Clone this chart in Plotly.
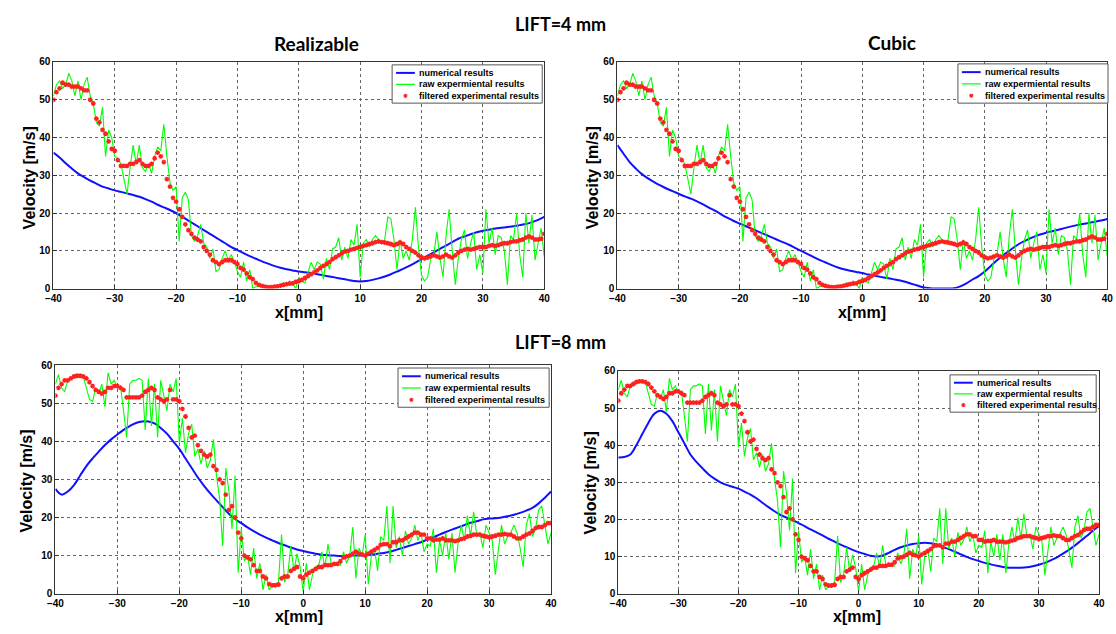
import numpy as np
import plotly.graph_objects as go

# ---------------- DATA ----------------
x_exp = np.arange(-40, 40.01, 0.5)   # experimental grid, mm
x_num = np.arange(-40, 40.01, 1.0)   # numerical grid, mm

# LIFT = 4 mm, experimental (same in both top panels)
raw4 = [51, 54, 55, 53, 54, 57, 55, 51, 55, 50, 54, 56, 51, 49, 44, 43, 48, 35, 42, 40,
        35, 34.5, 33, 29, 25, 32, 38, 33, 38, 32, 31, 33, 30.5, 35, 37.5, 36.5, 43.5, 35, 28, 26,
        27, 12.5, 24, 25.5, 23.5, 14, 12.5, 14, 17, 12, 11, 8, 10.5, 4.5, 5, 8, 10, 7.5, 9, 7,
        4.5, 3, 7, 2, 5, 0, 0.5, 1, 0.5, 0.3, 0.5, 0.2, 0.8, 0.5, 1, 1.5, 1.2, 2, 1.3, 0,
        3, 2, 1.5, 4, 7, 5, 7, 6.5, 2.5, 8, 5, 10.5, 11, 13.5, 7.5, 11, 8, 13, 11.5, 17,
        3, 12, 13, 11, 13, 14, 13, 12, 13, 19, 18.5, 13, 5, 13, 8, 10, 7.5, 13, 21.5, 11,
        3.5, 2, 3, 8, 9, 15, 8, 3, 14, 21, 10, 1, 8, 13, 15.5, 8, 12, 15, 5, 9,
        4, 21, 12, 16, 9, 14, 13.5, 10, 1, 14, 13, 20, 9, 3, 20, 12, 19.5, 7.5, 12, 16, 8.5]
filt4 = [50, 52, 53, 54.5, 54, 54, 53.5, 53.5, 53.5, 53, 52.5, 52.5, 50, 49, 45, 44, 42, 41, 39, 37,
         36.5, 34, 32.5, 32.5, 32.5, 33, 33, 33.5, 34, 33, 32.5, 32.5, 33, 34.5, 36, 35, 33.5, 29, 27, 24,
         23, 21, 19, 17, 15.5, 14.5, 13.5, 13, 12.5, 11, 10, 9, 7.5, 7, 6.5, 7, 7.5, 7.5, 7.5, 7,
         6.5, 5.5, 5, 4, 3, 2.5, 1.5, 1, 0.7, 0.5, 0.4, 0.4, 0.5, 0.6, 0.8, 1, 1.2, 1.3, 1.4, 1.8,
         2, 2.3, 2.8, 3.3, 3.8, 4.3, 4.8, 5.5, 6, 6.5, 7, 7.8, 8.3, 8.8, 9.3, 9.8, 10, 10.3, 10.5, 10.8,
         11, 11.3, 11.5, 11.8, 12, 12.3, 12.5, 12.3, 12.2, 12, 11.8, 11.5, 11.8, 12.2, 11.8, 11, 10.5, 10, 9.5, 8.8,
         8.3, 8, 8.2, 8.5, 8.8, 8.5, 8.2, 8.5, 9, 8.5, 8.2, 8.8, 9.5, 10, 10.3, 10.5, 10.3, 10.5, 10.8, 11,
         11, 11, 11.3, 11.5, 11.3, 11.5, 11.8, 12, 12, 12.3, 12.5, 12.5, 12.8, 13, 13.5, 13.8, 13.5, 13, 13, 13.2, 14.5]

# LIFT = 8 mm, experimental (same in both bottom panels)
raw8 = [55, 57.5, 54, 53, 56, 56.5, 57.5, 57.5, 57.5, 57, 54, 51, 50.5, 54, 52.5, 55, 49, 58, 55, 56,
        54, 54.5, 48, 41, 55, 56, 56, 56.5, 56, 43, 56.5, 44, 55, 41, 56, 52, 48, 55, 53, 56.5,
        39.5, 46, 37, 42, 44.5, 36, 38, 34, 37.5, 33, 35, 40.5, 31, 25, 12.5, 33, 27, 17, 31, 5.5,
        17, 8.5, 10, 5, 12, 4, 8, 1, 5, 1, 2, 2.5, 3, 15.5, 3, 5, 12.5, 6, 10.5, 7,
        0.5, 8, 1, 5, 7, 7.5, 11, 7, 13, 8, 7.5, 7.5, 7.5, 11, 8, 10, 17.5, 4, 12, 10,
        15.5, 2.5, 10, 12, 6, 15, 14, 23, 8, 23, 12, 15, 10, 16.5, 13, 14.5, 18, 14, 16, 11,
        13, 12.5, 17, 5.5, 14, 10, 16, 9, 16, 5.5, 13.5, 18, 14, 20.5, 15, 21.5, 15.5, 16, 12, 18,
        16, 14, 5, 12, 18, 13, 15, 16, 18, 16, 12, 7, 18, 21, 15, 17, 22, 23, 18, 13, 16]
filt8 = [52, 54, 55, 56, 56, 56.5, 57, 57.2, 57.2, 57, 56.5, 55.5, 54.5, 53.5, 53, 52.5, 53, 54, 54, 54.5,
         54.5, 54, 53.5, 51.5, 51.5, 51.5, 51.5, 51.5, 52, 53, 53.5, 54, 53.5, 51.5, 51, 50.5, 51, 53.5, 51, 51,
         50.5, 48.5, 46.5, 43.5, 41, 41.5, 39, 37.5, 36.5, 36, 36.5, 33.5, 32.5, 30, 29, 26, 22, 23, 20, 16,
         14.5, 10, 9.5, 9, 7.5, 6, 6, 4.5, 4, 2.5, 2.2, 2.2, 2.4, 4, 4.5, 4.5, 6, 6.5, 7, 4.5,
         4, 5, 5.5, 6, 6.5, 7, 7, 7.5, 7.5, 7.5, 7.8, 7.8, 8.5, 9.5, 9.8, 10, 10.5, 11, 10.5, 10.3,
         10, 10.5, 11, 11.5, 12, 12.8, 13, 13, 12.5, 13.5, 13.5, 14, 14, 14.5, 15, 15.5, 16, 16, 15.5, 15.5,
         14.5, 14.5, 14, 14.2, 14.2, 14.5, 14, 14, 14, 13.8, 14, 14.3, 14.5, 15, 15.2, 15.5, 15.5, 15.5, 15.2, 15,
         14.8, 15, 15.2, 15.5, 15.5, 15.7, 15.5, 15.5, 15, 14.5, 14.5, 15, 15.5, 15.8, 16.5, 17.2, 17.5, 17.5, 18, 18.5, 18.5]

# Numerical results (1 mm grid)
num_real4 = [36, 34.7, 33.2, 31.8, 30.5, 29.5, 28.6, 27.8, 27, 26.5, 26, 25.6, 25.2, 24.8, 24.3, 23.7, 23, 22.2, 21.5, 20.8,
             20, 19, 18, 17, 16, 15, 14, 13, 12, 11, 10.2, 9.4, 8.6, 7.9, 7.2, 6.6, 6, 5.5, 5.1, 4.8,
             4.5, 4.3, 4.1, 3.8, 3.5, 3.2, 2.9, 2.6, 2.3, 2, 1.9, 2, 2.3, 2.7, 3.2, 3.8, 4.5, 5.2, 6, 6.9,
             7.8, 8.7, 9.6, 10.5, 11.4, 12.3, 13.2, 13.8, 14.4, 14.9, 15.3, 15.6, 15.9, 16.1, 16.3, 16.5, 16.8, 17.1, 17.6, 18.2, 19]
num_cubic4 = [38, 35.7, 33.5, 31.8, 30.3, 29.2, 28.2, 27.3, 26.5, 25.8, 25.1, 24.4, 23.8, 23.1, 22.3, 21.4, 20.6, 19.6, 18.7, 17.9,
              17.2, 16.5, 15.8, 15.1, 14.4, 13.7, 13, 12.3, 11.6, 10.8, 10, 9.2, 8.4, 7.6, 6.9, 6.2, 5.6, 5.1, 4.7, 4.4,
              4.1, 3.7, 3.4, 3.1, 2.8, 2.5, 2.2, 1.8, 1.3, 0.8, 0.3, 0.1, 0, 0, 0, 0.1, 0.6, 1.4, 2.4, 3.3,
              4.5, 6, 7.5, 8.8, 10, 11.2, 12.2, 13, 13.7, 14.3, 14.8, 15.2, 15.6, 16, 16.4, 16.8, 17.1, 17.4, 17.7, 18, 18.4]
num_real8 = [27.5, 26, 26.8, 28.5, 31, 33.5, 35.5, 37.3, 39, 40.5, 41.8, 43, 44, 44.8, 45.2, 45.2, 44.7, 43.5, 42, 40,
             38, 35.5, 33, 30.5, 28.3, 26.3, 24.5, 22.7, 21, 19.6, 18.5, 17.4, 16.4, 15.5, 14.7, 14, 13.3, 12.7, 12.1, 11.6,
             11.2, 10.8, 10.5, 10.2, 10.1, 10, 9.9, 9.9, 10, 10, 10, 10.2, 10.5, 10.7, 11, 11.5, 12, 12.5, 13, 13.5,
             14.2, 14.8, 15.5, 16.2, 16.8, 17.4, 18, 18.6, 19, 19.5, 19.7, 19.8, 20, 20.3, 20.7, 21.2, 21.8, 22.5, 23.7, 25.2, 26.8]
num_cubic8 = [36.7, 36.8, 37.5, 40, 43, 46, 48.5, 49.3, 48.5, 46.5, 43.5, 40.5, 37.5, 35.5, 33.8, 32.2, 31, 30, 29.3, 28.8,
              28.3, 27.5, 26.7, 25.7, 24.5, 23.3, 22.2, 21.2, 20.5, 19.8, 19, 18.2, 17.3, 16.5, 15.7, 14.8, 14, 13.2, 12.5, 11.8,
              11.2, 10.7, 10.2, 10, 10.3, 11, 11.8, 12.5, 13, 13.4, 13.6, 13.7, 13.6, 13.2, 12.6, 12, 11.3, 10.6, 9.9, 9.3,
              8.8, 8.3, 7.9, 7.5, 7.2, 7, 7, 7, 7.1, 7.4, 7.8, 8.3, 9, 9.8, 10.8, 11.8, 13, 14.3, 15.6, 17, 18.2]

x_ticks = [-40, -30, -20, -10, 0, 10, 20, 30, 40]
y_ticks = [0, 10, 20, 30, 40, 50, 60]
names = ["numerical results", "raw expermiental results", "filtered experimental results"]

W, H = 1116, 634
BLUE = "#1010ff"
GREEN = "#00ff00"
RED = "#ff2020"

panels = [
    # num, raw, filt, xdomain, ydomain, legend box (left, top, right, bottom) in px
    (num_real4, raw4, filt4, [0.0412, 0.4866], [0.5457, 0.910], (389, 60, 541, 99)),
    (num_cubic4, raw4, filt4, [0.5530, 0.9975], [0.5457, 0.910], (962, 59, 1114, 99)),
    (num_real8, raw8, filt8, [0.0430, 0.4928], [0.0552, 0.4227], (395, 369, 548, 409)),
    (num_cubic8, raw8, filt8, [0.5538, 0.9900], [0.0552, 0.4132], (954, 376, 1102, 414)),
]
assert all(len(a) == 161 for a in (raw4, filt4, raw8, filt8))
assert all(len(a) == 81 for a in (num_real4, num_cubic4, num_real8, num_cubic8))

def px(xp): return xp / W
def py(yp): return 1 - yp / H

fig = go.Figure()
tickfont = dict(family="Liberation Sans, Arial", size=10, color="black", weight="bold")
shapes, ann = [], []

for i, (num, raw, filt, xd, yd, box) in enumerate(panels):
    k = "" if i == 0 else str(i + 1)
    xa, ya = "x" + k, "y" + k
    fig.add_trace(go.Scatter(x=x_num, y=num, mode="lines", name=names[0],
                             line=dict(color=BLUE, width=2, shape="spline"),
                             xaxis=xa, yaxis=ya, showlegend=False))
    fig.add_trace(go.Scatter(x=x_exp, y=raw, mode="lines", name=names[1],
                             line=dict(color=GREEN, width=1.1),
                             xaxis=xa, yaxis=ya, showlegend=False))
    fig.add_trace(go.Scatter(x=x_exp, y=filt, mode="markers", name=names[2],
                             marker=dict(symbol="asterisk-open", size=4, color=RED,
                                         line=dict(color=RED, width=1.3)),
                             xaxis=xa, yaxis=ya, showlegend=False))
    axcommon = dict(showline=True, linecolor="#333", linewidth=1, mirror=True,
                    showgrid=True, gridcolor="#666", griddash="dot", gridwidth=1,
                    ticks="inside", ticklen=4, tickcolor="#333", tickfont=tickfont,
                    zeroline=False)
    fig.update_layout(**{
        "xaxis" + k: dict(domain=xd, range=[-40, 40], tickvals=x_ticks, anchor=ya, **axcommon),
        "yaxis" + k: dict(domain=yd, range=[0, 60], tickvals=y_ticks, anchor=xa, **axcommon),
    })

    # legend box drawn with shapes + text
    l, t, r, b = box
    shapes.append(dict(type="rect", xref="paper", yref="paper",
                       x0=px(l), x1=px(r), y0=py(b), y1=py(t),
                       fillcolor="white", line=dict(color="#555", width=1), layer="above"))
    rows = [t + (b - t) * f for f in (0.21, 0.51, 0.81)]
    for j, yy in enumerate(rows):
        if j < 2:
            shapes.append(dict(type="line", xref="paper", yref="paper",
                               x0=px(l + 4), x1=px(l + 23), y0=py(yy), y1=py(yy),
                               line=dict(color=BLUE if j == 0 else GREEN, width=2 if j == 0 else 1.2),
                               layer="above"))
        else:
            cx = l + 13.5
            for dx, dy in ((2, 0), (0, 2), (1.5, 1.5), (1.5, -1.5)):
                shapes.append(dict(type="line", xref="paper", yref="paper",
                                   x0=px(cx - dx), x1=px(cx + dx), y0=py(yy - dy), y1=py(yy + dy),
                                   line=dict(color=RED, width=1.2), layer="above"))
        ann.append(dict(text=names[j], x=px(l + 25), y=py(yy), xref="paper", yref="paper",
                        showarrow=False, xanchor="left", yanchor="middle",
                        font=dict(family="Liberation Sans, Arial", size=9, color="black", weight="bold")))

def text(s, xpx, ypx, size, rot=0, fam="Lato, Liberation Sans"):
    ann.append(dict(text=s, x=px(xpx), y=py(ypx), xref="paper", yref="paper",
                    showarrow=False, textangle=rot, xanchor="center", yanchor="middle",
                    font=dict(family=fam, size=size, color="black", weight="bold")))

text("LIFT=4 mm", 560, 18, 18)
text("Realizable", 312, 38, 19)
text("Cubic", 895, 37, 19)
text("LIFT=8 mm", 560, 342, 18)
for (xp, yp) in [(295, 312), (865, 312), (295, 622), (860, 622)]:
    text("x[mm]", xp, yp, 16, fam="Liberation Sans, Arial")
for (xp, yp) in [(22, 175), (592, 175), (19, 484), (590, 486)]:
    text("Velocity [m/s]", xp, yp, 16, rot=-90, fam="Liberation Sans, Arial")

fig.update_layout(width=W, height=H, margin=dict(l=0, r=0, t=0, b=0),
                  paper_bgcolor="white", plot_bgcolor="white",
                  annotations=ann, shapes=shapes, showlegend=False)
fig.write_html("out.html")
